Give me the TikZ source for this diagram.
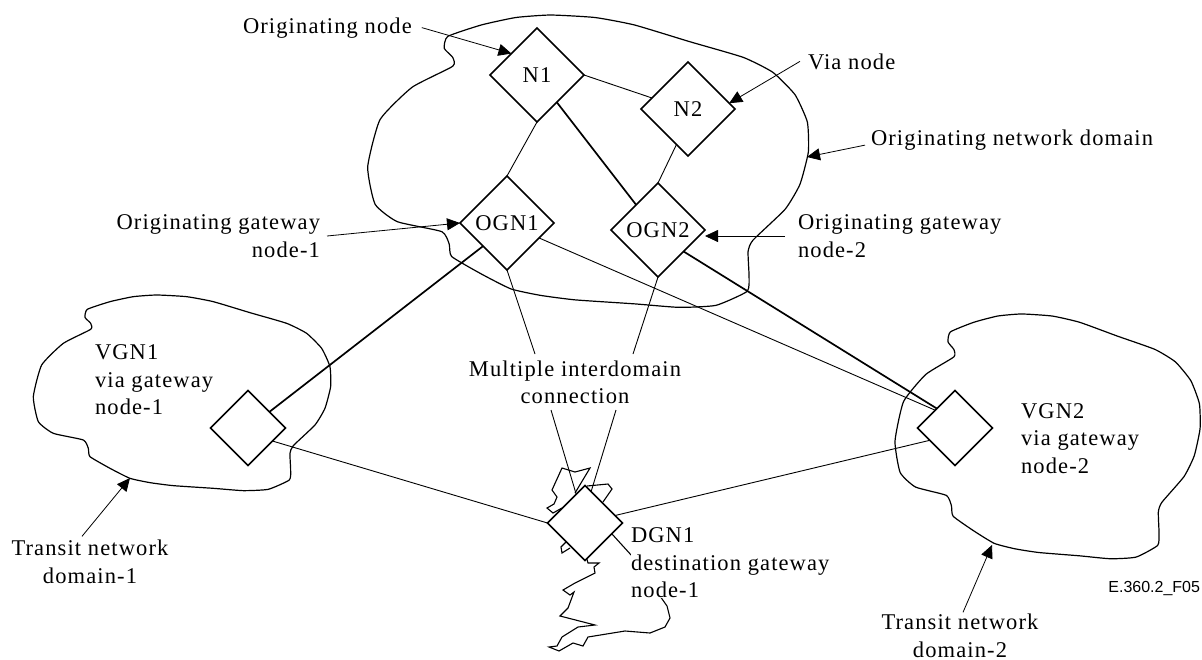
\documentclass[tikz,border=0pt]{standalone}
\usepackage{fontspec}
\setmainfont[LetterSpace=5]{Liberation Serif}
\newfontfamily\figtag{Liberation Sans}
\usetikzlibrary{arrows.meta,shapes.geometric}
\tikzset{
  gate/.style={draw,shape=diamond,aspect=1,fill=white,inner sep=0pt,outer sep=0pt,line width=1.5pt},
  big/.style={gate,minimum width=94pt,minimum height=94pt},
  small/.style={gate,minimum width=75pt,minimum height=75pt},
  thinlink/.style={line width=0.9pt},
  thicklink/.style={line width=1.7pt},
  pointer/.style={line width=0.8pt,-{Triangle[length=13pt,width=12pt]}},
  textlabel/.style={inner sep=0pt,outer sep=0pt},
  domain/.pic={
    \draw[line width=1.2pt] plot[smooth cycle,tension=0.3] coordinates {
      (262,88) (330,65) (400,50) (470,45) (560,50) (640,65) (750,98) (860,130)
      (920,160) (965,205) (990,260) (992,320) (975,385) (945,435) (880,497)
      (870,520) (872,570) (868,600) (805,628) (730,632) (640,625) (520,617)
      (450,608) (390,595) (330,565) (270,530) (265,505) (250,480) (160,460)
      (115,425) (100,350) (125,255) (190,190) (272,148) (272,130) (255,112)};
  }
}
\begin{document}
\begin{tikzpicture}[x=1pt,y=-1pt,font=\fontsize{22.5}{27.5}\selectfont]
  \useasboundingbox (0,0) rectangle (1202,659);
  \pic[shift={(318.3,-7.4)},xscale=.494,yscale=.498] {domain};
  \pic[shift={(0,280)},xscale=.3333,yscale=.3333] {domain};
  \pic[shift={(860.8,295.2)},xscale=.342,yscale=.417] {domain};
  \draw[line width=1.1pt]
    (562,508) -- (553,513) -- (547,508) -- (554,504) -- (557,497) -- (552,490)
      -- (562,468) -- (575,472) -- (590,468) -- (575,493)
    (587,486) -- (608,484) -- (612,489) -- (603,502)
    (612,534) -- (632,556) -- (667,606) -- (670,618) -- (665,627) -- (650,633)
      -- (625,631) -- (588,637) -- (583,646) -- (573,643) -- (559,651) -- (549,647)
      -- (557,646) -- (562,637) -- (578,627) -- (595,625) -- (560,616) -- (568,608)
      -- (574,592) -- (570,595) -- (563,590) -- (575,583) -- (595,573) -- (594,567)
      -- (599,563) -- (588,563) -- (586,556)
    (570,548) -- (562,553) -- (561,547) -- (566,542);
  \path (537,75)  node[big] (N1) {N1}
        (688,109) node[big] (N2) {N2}
        (507,223) node[big] (OGN1) {OGN1}
        (658,230) node[big] (OGN2) {OGN2}
        (248,428) node[small] (VGN1) {}
        (955,428) node[small] (VGN2) {}
        (585,523) node[small] (DGN1) {};
  \path (243,33)  node[textlabel,anchor=base west] (lN1) {Originating node}
        (808,69)  node[textlabel,anchor=base west] (lN2) {Via node}
        (871,145) node[textlabel,anchor=base west] (lDomain) {Originating network domain}
        (320,236) node[textlabel,anchor=east,align=right] (lOGN1) {Originating gateway\\node-1}
        (798,236) node[textlabel,anchor=west,align=left] (lOGN2) {Originating gateway\\node-2}
        (95,380)  node[textlabel,anchor=west,align=left] (lVGN1) {VGN1\\via gateway\\node-1}
        (1021,438.5) node[textlabel,anchor=west,align=left] (lVGN2) {VGN2\\via gateway\\node-2}
        (90,562)  node[textlabel,align=center] (lTransit1) {Transit network\\domain-1}
        (960,636) node[textlabel,align=center] (lTransit2) {Transit network\\domain-2}
        (575,382.5) node[textlabel,align=center] (lMulti) {Multiple interdomain\\connection}
        (631,563) node[textlabel,anchor=west,align=left,fill=white] (lDGN1) {DGN1\\destination gateway\\node-1}
        (1200,588) node[textlabel,anchor=east,font=\figtag\fontsize{16}{18}\selectfont] (lTag) {E.360.2\_F05};
  \coordinate (edgeO) at (807,157);
  \coordinate (edgeT1) at (130,478);
  \coordinate (edgeT2) at (992,545);
  \coordinate (multiA) at (535,354);
  \coordinate (multiB) at (633,354);
  \coordinate (multiC) at (551,410);
  \coordinate (multiD) at (616,410);
  \draw[thinlink] (N1.east) -- (N2.163);
  \draw[thinlink] (N1.south) -- (OGN1.north);
  \draw[thicklink] (N1.-54) -- (OGN2.131);
  \draw[thinlink] (N2.-108) -- (OGN2.north);
  \draw[thicklink] (OGN1.224) -- (VGN1.37);
  \draw[thinlink] (OGN1.-25) -- (VGN2.138);
  \draw[thicklink] (OGN2.-40) -- (VGN2.133);
  \draw[thinlink] (OGN1.south) -- (multiA);
  \draw[thinlink] (OGN2.south) -- (multiB);
  \draw[thinlink] (multiC) -- (DGN1.107);
  \draw[thinlink] (multiD) -- (DGN1.79);
  \draw[thinlink] (VGN1.-28) -- (DGN1.west);
  \draw[thinlink] (VGN2.206) -- (DGN1.14);
  \draw[pointer] ([xshift=10pt]lN1.east) -- (N1.140);
  \draw[pointer] ([xshift=-8pt]lN2.west) -- (N2.8);
  \draw[pointer] ([xshift=-6pt,yshift=-5.5pt]lDomain.west) -- (edgeO);
  \draw[pointer] ([xshift=7pt]lOGN1.east) -- (OGN1.west);
  \draw[pointer] ([xshift=-13pt]lOGN2.west) -- ([yshift=-6pt]OGN2.east);
  \draw[pointer] ([xshift=-8pt,yshift=4pt]lTransit1.north) -- (edgeT1);
  \draw[pointer] ([xshift=3pt,yshift=2pt]lTransit2.north) -- (edgeT2);
\end{tikzpicture}
\end{document}
